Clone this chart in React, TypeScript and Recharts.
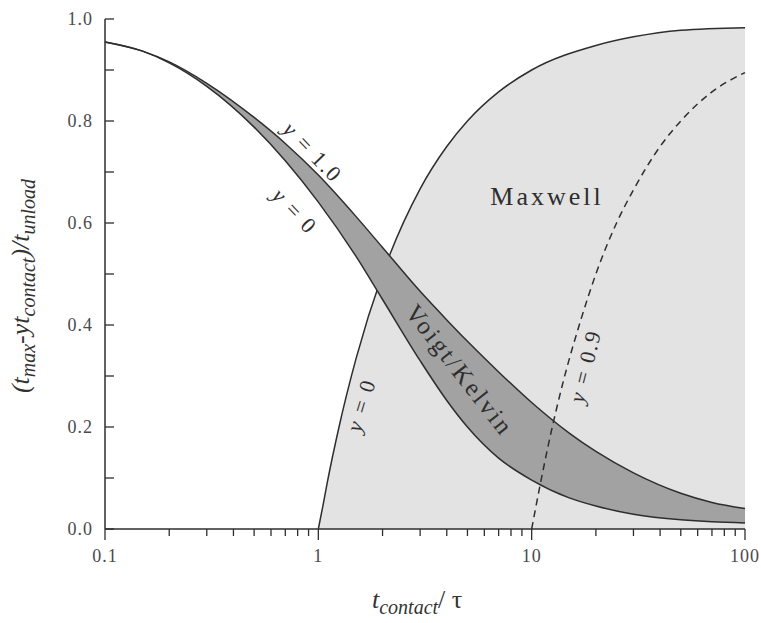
import React from 'react';
import { ComposedChart, Area, Line, XAxis, YAxis } from 'recharts';

// axis ticks
const xTicks = [
  0.1, 0.2, 0.3, 0.4, 0.5, 0.6, 0.7, 0.8, 0.9,
  1, 2, 3, 4, 5, 6, 7, 8, 9,
  10, 20, 30, 40, 50, 60, 70, 80, 90, 100,
];
const xMajor = [0.1, 1, 10, 100];
const yTicks = [0, 0.1, 0.2, 0.3, 0.4, 0.5, 0.6, 0.7, 0.8, 0.9, 1.0];
const yLabeled = ['0.0', '', '0.2', '', '0.4', '', '0.6', '', '0.8', '', '1.0'];

// Voigt/Kelvin band
const voigtT = [0.1, 0.15, 0.2, 0.3, 0.5, 0.7, 1, 1.5, 2, 3, 4, 5, 7, 10, 15, 20, 30, 50, 70, 100];
const voigtY0 = [0.955, 0.937, 0.914, 0.868, 0.788, 0.722, 0.641, 0.535, 0.45, 0.33, 0.252, 0.2, 0.139, 0.096, 0.061, 0.045, 0.029, 0.018, 0.014, 0.012];
const voigtY1 = [0.955, 0.937, 0.916, 0.874, 0.807, 0.756, 0.694, 0.613, 0.552, 0.466, 0.41, 0.368, 0.308, 0.248, 0.188, 0.152, 0.11, 0.07, 0.052, 0.04];

// Maxwell, y = 0 (solid)
const maxwellT = [1, 1.05, 1.1, 1.25, 1.5, 2, 3, 4, 5, 7, 10, 20, 30, 50, 100];
const maxwellY0 = [0, 0.045, 0.09, 0.2, 0.333, 0.5, 0.667, 0.75, 0.8, 0.857, 0.9, 0.948, 0.965, 0.978, 0.983];

// Maxwell, y = 0.9 (dashed)
const dashT = [10, 11, 12, 14, 17, 20, 25, 30, 40, 50, 70, 100];
const dashY09 = [0, 0.09, 0.167, 0.286, 0.41, 0.5, 0.6, 0.665, 0.75, 0.8, 0.857, 0.895];

const allT = Array.from(new Set([...voigtT, ...maxwellT, ...dashT])).sort((a, b) => a - b);
const rows = allT.map((t) => {
  const vi = voigtT.indexOf(t);
  const mi = maxwellT.indexOf(t);
  const di = dashT.indexOf(t);
  return {
    t,
    low: vi >= 0 ? voigtY0[vi] : null,
    high: vi >= 0 ? voigtY1[vi] : null,
    band: vi >= 0 ? [voigtY0[vi], voigtY1[vi]] : [null, null],
    maxwell: mi >= 0 ? maxwellY0[mi] : null,
    dash: di >= 0 ? dashY09[di] : null,
  };
});

const FONT = "'Liberation Serif', 'DejaVu Serif', serif";
const INK = '#2e2e2e';
const LABEL = '#4a4a4a';

const BottomTick = (props: any) => {
  const { x, y, payload } = props;
  const major = xMajor.includes(payload.value);
  return (
    <g>
      <line x1={x} y1={y} x2={x} y2={y + (major ? 11 : 7)} stroke={INK} strokeWidth={1.3} />
      {major && (
        <text x={x} y={y + 33} textAnchor="middle" fontSize={18} letterSpacing={1} fill={LABEL} fontFamily={FONT}>
          {String(payload.value)}
        </text>
      )}
    </g>
  );
};

const TopTick = (props: any) => {
  const { x, y, payload } = props;
  const major = xMajor.includes(payload.value);
  return <line x1={x} y1={y} x2={x} y2={y + (major ? 10 : 6)} stroke={INK} strokeWidth={1.3} />;
};

const LeftTick = (props: any) => {
  const { x, y, index } = props;
  return (
    <g>
      <line x1={x} y1={y} x2={x + 9} y2={y} stroke={INK} strokeWidth={1.3} />
      <text x={x - 12} y={y + 6} textAnchor="end" fontSize={18} letterSpacing={1} fill={LABEL} fontFamily={FONT}>
        {yLabeled[index]}
      </text>
    </g>
  );
};

const RightTick = (props: any) => {
  const { x, y } = props;
  return <line x1={x} y1={y} x2={x - 9} y2={y} stroke={INK} strokeWidth={1.3} />;
};

const Annotations = () => (
  <svg width={761} height={623} style={{ position: 'absolute', left: 0, top: 0, pointerEvents: 'none' }} fontFamily={FONT} fill={INK}>
    <text x={547} y={205} textAnchor="middle" fontSize={26} letterSpacing={3}>Maxwell</text>
    <text transform="translate(460,370) rotate(52)" textAnchor="middle" dy="0.35em" fontSize={25} letterSpacing={2.5}>Voigt/Kelvin</text>
    <text transform="translate(313,152) rotate(46)" textAnchor="middle" dy="0.35em" fontSize={22} letterSpacing={2}>
      <tspan fontStyle="italic">y</tspan> = 1.0
    </text>
    <text transform="translate(295,211) rotate(46)" textAnchor="middle" dy="0.35em" fontSize={22} letterSpacing={2}>
      <tspan fontStyle="italic">y</tspan> = 0
    </text>
    <text transform="translate(361,405) rotate(-73)" textAnchor="middle" dy="0.35em" fontSize={22} letterSpacing={2}>
      <tspan fontStyle="italic">y</tspan> = 0
    </text>
    <text transform="translate(585,366) rotate(-76)" textAnchor="middle" dy="0.35em" fontSize={22} letterSpacing={2}>
      <tspan fontStyle="italic">y</tspan> = 0.9
    </text>

    {/* axis titles */}
    <text x={372} y={608} fontSize={26} fontStyle="italic" fill="#333">
      t<tspan fontSize={20} dy={6}>contact</tspan>
      <tspan fontStyle="normal" dy={-6}>/ τ</tspan>
    </text>
    <text transform="translate(29,286) rotate(-90)" textAnchor="middle" fontSize={26} fontStyle="italic" fill="#333">
      (t<tspan fontSize={20} dy={6}>max</tspan>
      <tspan dy={-6}>-yt</tspan>
      <tspan fontSize={20} dy={6}>contact</tspan>
      <tspan dy={-6}>)/t</tspan>
      <tspan fontSize={20} dy={6}>unload</tspan>
    </text>
  </svg>
);

export default function App() {
  return (
    <div style={{ position: 'absolute', left: 0, top: 0, width: 761, height: 623, background: '#fff' }}>
      <ComposedChart width={761} height={623} data={rows} margin={{ top: 19, right: 16, bottom: 0, left: 0 }}>
        <XAxis
          xAxisId="b"
          dataKey="t"
          type="number"
          scale="log"
          domain={[0.1, 100]}
          ticks={xTicks}
          interval={0}
          height={94}
          tickSize={0}
          tickMargin={0}
          tickLine={false}
          axisLine={{ stroke: INK, strokeWidth: 1.5 }}
          tick={<BottomTick />}
        />
        <XAxis
          xAxisId="t"
          orientation="top"
          dataKey="t"
          type="number"
          scale="log"
          domain={[0.1, 100]}
          ticks={xTicks}
          interval={0}
          height={0}
          tickSize={0}
          tickMargin={0}
          tickLine={false}
          axisLine={{ stroke: INK, strokeWidth: 1.5 }}
          tick={<TopTick />}
        />
        <YAxis
          yAxisId="l"
          type="number"
          domain={[0, 1]}
          ticks={yTicks}
          interval={0}
          width={105}
          tickSize={0}
          tickMargin={0}
          tickLine={false}
          axisLine={{ stroke: INK, strokeWidth: 1.5 }}
          tick={<LeftTick />}
        />
        <YAxis
          yAxisId="r"
          orientation="right"
          type="number"
          domain={[0, 1]}
          ticks={yTicks}
          interval={0}
          width={0}
          tickSize={0}
          tickMargin={0}
          tickLine={false}
          axisLine={{ stroke: INK, strokeWidth: 1.5 }}
          tick={<RightTick />}
        />

        {/* Maxwell region, y = 0 boundary */}
        <Area
          xAxisId="b"
          yAxisId="l"
          type="monotone"
          dataKey="maxwell"
          connectNulls
          fill="#e3e3e3"
          fillOpacity={1}
          stroke={INK}
          strokeWidth={1.5}
          dot={false}
          activeDot={false}
          isAnimationActive={false}
        />
        {/* Voigt/Kelvin band */}
        <Area
          xAxisId="b"
          yAxisId="l"
          type="monotone"
          dataKey="band"
          connectNulls
          fill="#a2a2a2"
          fillOpacity={1}
          stroke="none"
          dot={false}
          activeDot={false}
          isAnimationActive={false}
        />
        <Line xAxisId="b" yAxisId="l" type="monotone" dataKey="dash" connectNulls stroke={INK} strokeWidth={1.5} strokeDasharray="7 5" dot={false} activeDot={false} isAnimationActive={false} />
        <Line xAxisId="b" yAxisId="l" type="monotone" dataKey="low" connectNulls stroke={INK} strokeWidth={1.5} dot={false} activeDot={false} isAnimationActive={false} />
        <Line xAxisId="b" yAxisId="l" type="monotone" dataKey="high" connectNulls stroke={INK} strokeWidth={1.5} dot={false} activeDot={false} isAnimationActive={false} />
      </ComposedChart>
      <Annotations />
    </div>
  );
}
